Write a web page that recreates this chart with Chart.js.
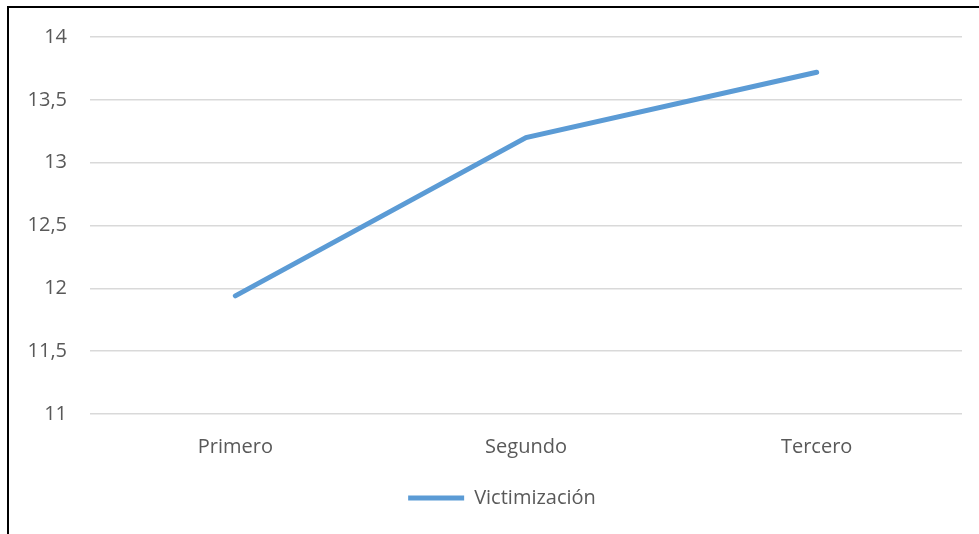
<!DOCTYPE html>
<html>
<head>
<meta charset="utf-8">
<script src="https://cdn.jsdelivr.net/npm/chart.js@4"></script>
<style>
  html, body { margin: 0; padding: 0; background: #fff; overflow: hidden; }
  #marco { position: absolute; left: 7px; top: 6px; width: 1100px; height: 700px; border: 2px solid #000; box-sizing: border-box; }
  #wrap { position: absolute; left: 0; top: 0; width: 979px; height: 534px; }
</style>
</head>
<body>
<div id="marco"></div>
<div id="wrap"><canvas id="myChart"></canvas></div>
<script>
// datos del gráfico
const categorias = ['Primero', 'Segundo', 'Tercero'];
const victimizacion = [11.94, 13.2, 13.72];
const ticksY = [11, 11.5, 12, 12.5, 13, 13.5, 14];

const fuente = "'Open Sans', 'Noto Sans', sans-serif";
const gris = '#595959';

// mover la leyenda un poco a la derecha, como en el original
const leyendaDerecha = {
  id: 'leyendaDerecha',
  afterLayout(chart) {
    if (chart.legend) chart.legend.left = 42;
  }
};

const ctx = document.getElementById('myChart').getContext('2d');

new Chart(ctx, {
  type: 'line',
  data: {
    labels: categorias,
    datasets: [
      {
        label: 'Victimización',
        data: victimizacion,
        borderColor: '#5B9BD5',
        backgroundColor: '#5B9BD5',
        borderWidth: 5,
        borderCapStyle: 'round',
        pointRadius: 0,
        pointHoverRadius: 0,
        tension: 0
      }
    ]
  },
  options: {
    responsive: true,
    maintainAspectRatio: false,
    animation: false,
    layout: { padding: { top: 37, right: 17, left: 0, bottom: 16 } },
    scales: {
      x: {
        offset: true,
        grid: { display: false },
        border: { display: false },
        ticks: { color: gris, font: { family: fuente, size: 20 }, padding: 13 },
        afterFit: (scale) => { scale.height = 66; }
      },
      y: {
        min: ticksY[0],
        max: ticksY[ticksY.length - 1],
        afterBuildTicks: (scale) => { scale.ticks = ticksY.map(v => ({ value: v })); },
        grid: { color: '#d9d9d9', lineWidth: 1.5, drawTicks: false },
        border: { display: false },
        ticks: {
          color: gris,
          font: { family: fuente, size: 20 },
          padding: 23,
          callback: (v) => String(v).replace('.', ',')
        },
        afterFit: (scale) => { scale.width = 90; }
      }
    },
    plugins: {
      tooltip: { enabled: false },
      legend: {
        position: 'bottom',
        labels: {
          color: gris,
          font: { family: fuente, size: 20 },
          usePointStyle: true,
          pointStyle: 'line',
          pointStyleWidth: 56,
          boxHeight: 20,
          padding: 8
        }
      }
    }
  },
  plugins: [leyendaDerecha]
});
</script>
</body>
</html>
